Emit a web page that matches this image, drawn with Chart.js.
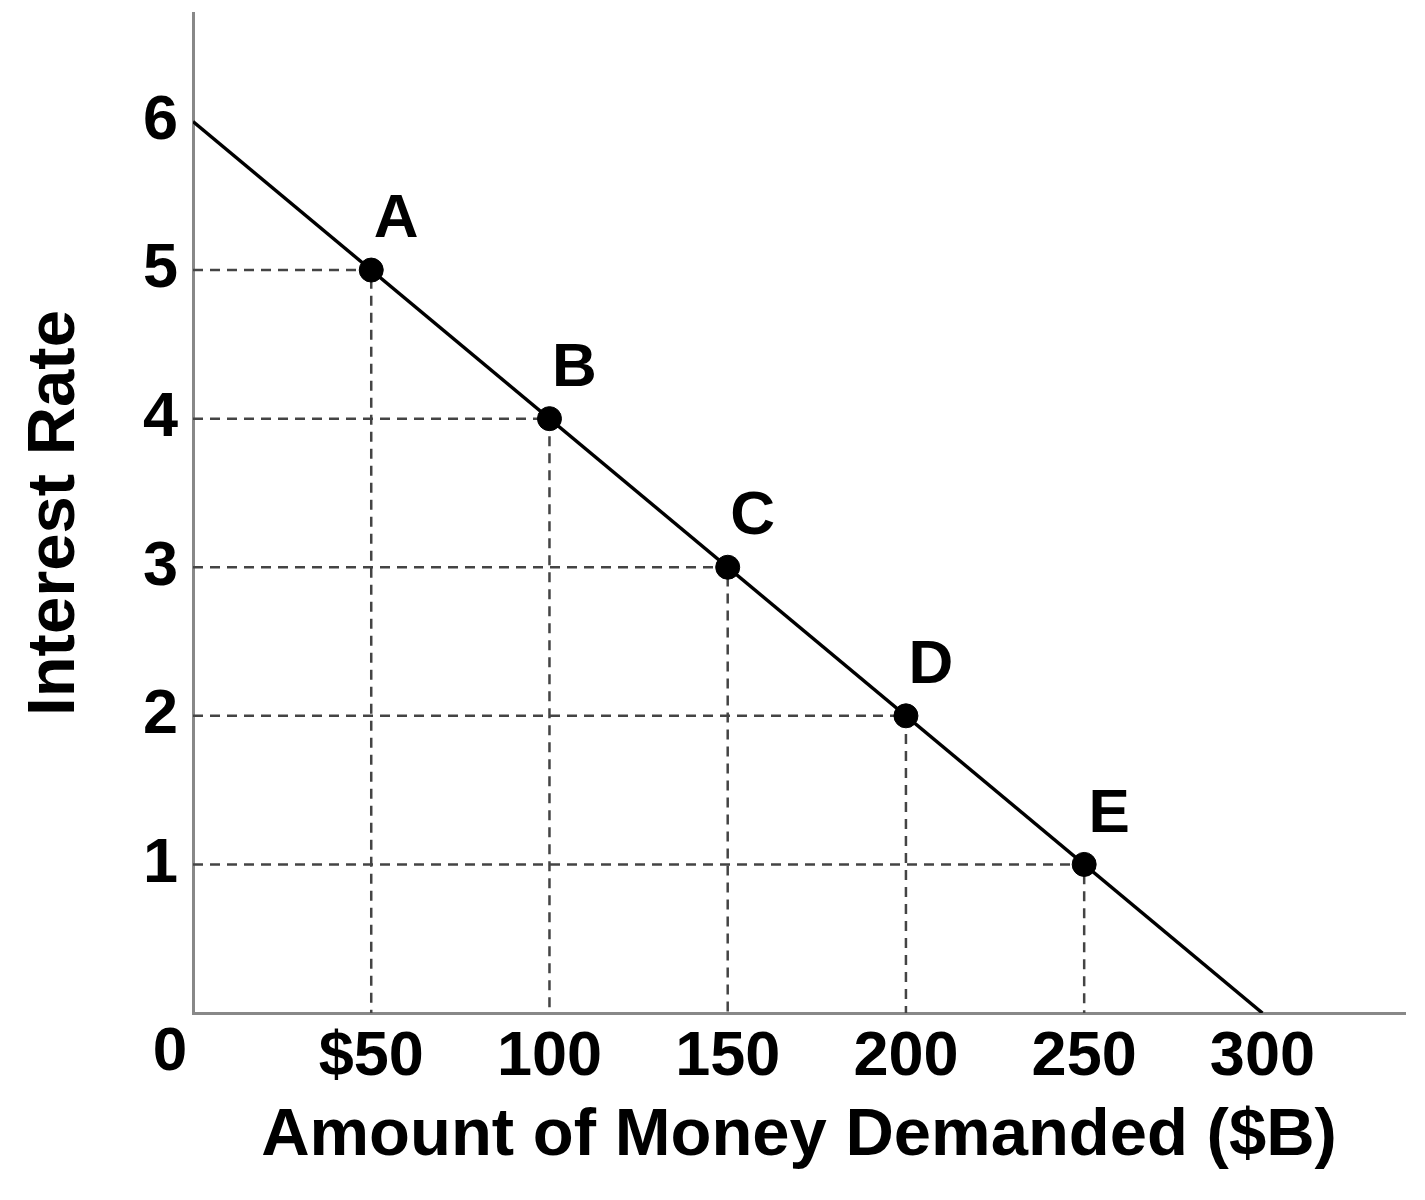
<!DOCTYPE html>
<html>
<head>
<meta charset="utf-8">
<script src="https://cdn.jsdelivr.net/npm/chart.js@4.4.1/dist/chart.umd.min.js"></script>
<style>
  html, body { margin: 0; padding: 0; background: #ffffff; }
  #wrap { position: relative; width: 1425px; height: 1200px; }
</style>
</head>
<body>
<div id="wrap"><canvas id="chart"></canvas></div>
<script>
// ---- data ----
const pointLabels = ['A', 'B', 'C', 'D', 'E'];
const quantities = [50, 100, 150, 200, 250];     // $B
const interestRates = [5, 4, 3, 2, 1];
const demandLineX = [0, 300];
const demandLineY = [6, 0];
const xTickValues = [50, 100, 150, 200, 250, 300];
const xTickLabels = ['$50', '100', '150', '200', '250', '300'];
const yTickValues = [1, 2, 3, 4, 5, 6];
const yTickLabels = ['1', '2', '3', '4', '5', '6'];
const originLabel = '0';
const xTitle = 'Amount of Money Demanded ($B)';
const yTitle = 'Interest Rate';

const FONT = "'Liberation Sans', Arial, Helvetica, sans-serif";

const demandData = demandLineX.map((x, i) => ({ x: x, y: demandLineY[i] }));
const pointData = quantities.map((q, i) => ({ x: q, y: interestRates[i] }));
const guideDatasets = quantities.map((q, i) => ({
  type: 'line',
  data: [{ x: 0, y: interestRates[i] }, { x: q, y: interestRates[i] }, { x: q, y: 0 }],
  borderColor: '#444444',
  borderWidth: 2.5,
  borderDash: [10, 7],
  pointRadius: 0,
  fill: false,
  tension: 0,
  order: 3
}));

const labelPlugin = {
  id: 'labels',
  afterDatasetsDraw(chart) {
    const ctx = chart.ctx;
    const meta = chart.getDatasetMeta(0);
    ctx.save();
    ctx.fillStyle = '#000';
    ctx.font = 'bold 62px ' + FONT;
    ctx.textAlign = 'center';
    ctx.textBaseline = 'middle';
    meta.data.forEach((el, i) => {
      ctx.fillText(pointLabels[i], el.x + 25, el.y - 50);
    });
    // origin label
    const xs = chart.scales.x, ys = chart.scales.y;
    ctx.fillText(originLabel, xs.getPixelForValue(0) - 23, ys.getPixelForValue(0) + 40);
    ctx.restore();
  }
};

Chart.defaults.font.family = FONT;
Chart.defaults.color = '#000';

new Chart(document.getElementById('chart'), {
  type: 'scatter',
  data: {
    datasets: [
      {
        type: 'scatter',
        data: pointData,
        pointRadius: 12,
        pointHoverRadius: 12,
        backgroundColor: '#000',
        borderColor: '#000',
        order: 1
      },
      {
        type: 'line',
        data: demandData,
        borderColor: '#000',
        borderWidth: 3.5,
        pointRadius: 0,
        fill: false,
        order: 2
      },
      ...guideDatasets
    ]
  },
  options: {
    responsive: true,
    maintainAspectRatio: false,
    animation: false,
    devicePixelRatio: 1,
    layout: { padding: { top: 4, right: 20, left: 0, bottom: 0 } },
    plugins: { legend: { display: false }, tooltip: { enabled: false } },
    scales: {
      x: {
        type: 'linear',
        min: 0,
        max: 340,
        afterBuildTicks: (s) => { s.ticks = xTickValues.map(v => ({ value: v })); },
        afterFit: (s) => { s.height = 187; s.paddingLeft = 0; s.paddingRight = 0; },
        grid: { display: false, drawTicks: false },
        border: { display: true, color: '#888888', width: 3 },
        ticks: {
          autoSkip: false,
          maxRotation: 0,
          padding: 13,
          color: '#000',
          font: { size: 63, weight: 'bold', lineHeight: 1 },
          callback: (v) => { const i = xTickValues.indexOf(v); return i >= 0 ? xTickLabels[i] : ''; }
        },
        title: {
          display: true,
          text: xTitle,
          color: '#000',
          font: { size: 67, weight: 'bold', lineHeight: 1 },
          padding: { top: 0, bottom: 30 }
        }
      },
      y: {
        type: 'linear',
        min: 0,
        max: 6.73,
        afterBuildTicks: (s) => { s.ticks = yTickValues.map(v => ({ value: v })); },
        afterFit: (s) => { s.width = 193; s.paddingTop = 0; s.paddingBottom = 0; },
        grid: { display: false, drawTicks: false },
        border: { display: true, color: '#888888', width: 3 },
        ticks: {
          autoSkip: false,
          padding: 15,
          color: '#000',
          font: { size: 63, weight: 'bold', lineHeight: 1 },
          callback: (v) => { const i = yTickValues.indexOf(v); return i >= 0 ? yTickLabels[i] : ''; }
        },
        title: {
          display: true,
          text: yTitle,
          color: '#000',
          font: { size: 67, weight: 'bold', lineHeight: 1 },
          padding: { top: 22, bottom: 0 }
        }
      }
    }
  },
  plugins: [labelPlugin]
});
</script>
</body>
</html>
